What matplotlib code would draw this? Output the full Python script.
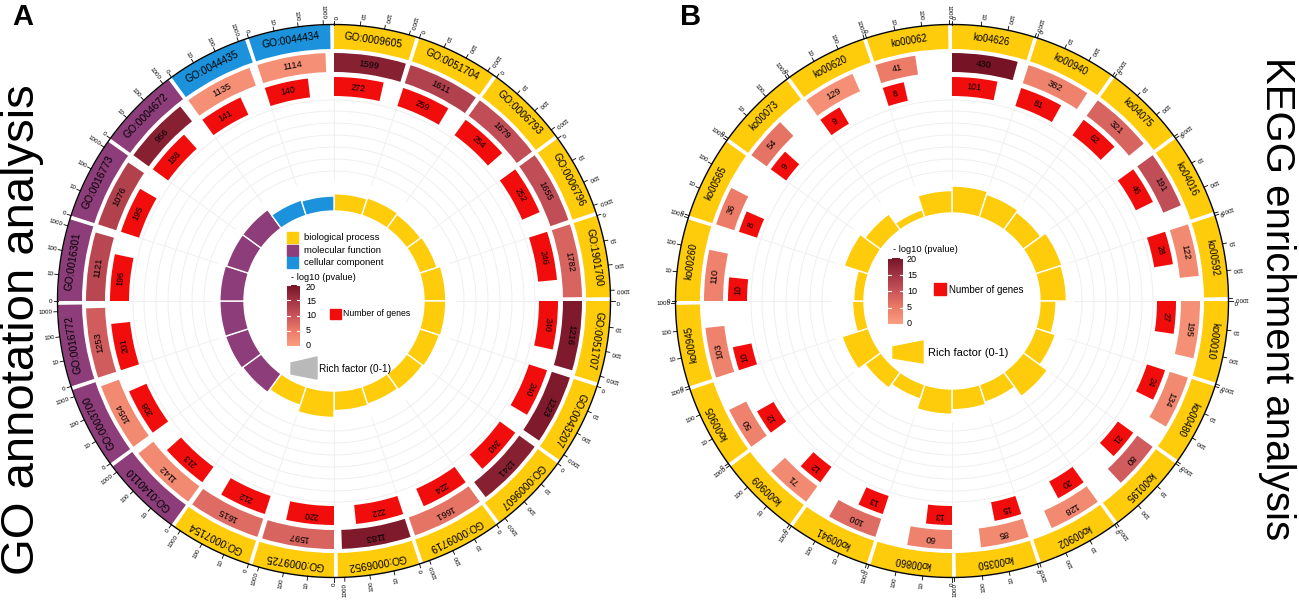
import numpy as np
import matplotlib
matplotlib.use("Agg")
import matplotlib.pyplot as plt
from matplotlib.colors import LinearSegmentedColormap, Normalize
from matplotlib.patches import Rectangle, Polygon

plt.rcParams['font.family'] = ['Liberation Sans', 'DejaVu Sans']

# GO annotation data, clockwise from 12 o'clock
go_terms = ['GO:0009605', 'GO:0051704', 'GO:0006793', 'GO:0006796', 'GO:1901700',
            'GO:0051707', 'GO:0043207', 'GO:0009607', 'GO:0009719', 'GO:0006952',
            'GO:0009725', 'GO:0007154', 'GO:0140110', 'GO:0003700', 'GO:0016772',
            'GO:0016301', 'GO:0016773', 'GO:0004672', 'GO:0044435', 'GO:0044434']
go_class = ['BP'] * 12 + ['MF'] * 6 + ['CC'] * 2
go_bg = [1599, 1611, 1679, 1655, 1782, 1216, 1223, 1241, 1661, 1183,
         1597, 1615, 1142, 1054, 1253, 1121, 1076, 956, 1135, 1114]
go_genes = [272, 259, 254, 252, 246, 240, 240, 240, 224, 222,
            220, 212, 213, 208, 201, 196, 195, 188, 141, 140]
go_logp = [18, 13, 11, 11, 8, 19, 19, 18, 6, 19,
           8, 7, 3, 3, 9, 12, 13, 18, 2, 2]
go_rich = [0.15, 0.16, 0.15, 0.16, 0.19, 0.19, 0.18, 0.17, 0.16, 0.17,
           0.23, 0.17, 0.20, 0.21, 0.21, 0.21, 0.20, 0.20, 0.14, 0.13]

# KEGG enrichment data, clockwise from 12 o'clock
ko_terms = ['ko04626', 'ko00940', 'ko04075', 'ko04016', 'ko00592', 'ko00010',
            'ko00480', 'ko00195', 'ko00902', 'ko00350', 'ko00860', 'ko00941',
            'ko00909', 'ko00905', 'ko00945', 'ko00260', 'ko00565', 'ko00073',
            'ko00620', 'ko00062']
ko_bg = [430, 382, 321, 191, 122, 195, 134, 80, 128, 85,
         60, 100, 71, 50, 103, 110, 36, 54, 129, 41]
ko_genes = [101, 81, 62, 46, 28, 27, 24, 21, 20, 15,
            13, 13, 12, 12, 10, 10, 8, 9, 9, 8]
ko_logp = [20, 4, 8, 11, 3, 2, 3, 9, 3, 3,
           4, 7, 3, 4, 4, 4, 5, 6, 2, 5]
ko_rich = [0.235, 0.21, 0.19, 0.24, 0.23, 0.14, 0.18, 0.26, 0.16, 0.18,
           0.22, 0.13, 0.17, 0.24, 0.10, 0.09, 0.22, 0.17, 0.07, 0.195]

axis_ticks = [0, 10, 100, 1000]
cbar_ticks = [0, 5, 10, 15, 20]

class_colors = {'BP': '#FECC0A', 'MF': '#8C3D7A', 'CC': '#1B92DB'}
gene_red = '#F20D0D'
cmap = LinearSegmentedColormap.from_list(
    'p', ['#FB9D80', '#EC7B67', '#C9545A', '#A23444', '#761426'])
norm = Normalize(0, 20)

W, H = 1299, 604
fig = plt.figure(figsize=(W / 100, H / 100), dpi=100)


def make_polar(cx, cy):
    ax = fig.add_axes([(cx - 300) / W, (H - cy - 300) / H, 600 / W, 600 / H],
                      projection='polar')
    ax.set_theta_zero_location('N')
    ax.set_theta_direction(-1)
    ax.set_ylim(0, 300)
    ax.set_axis_off()
    return ax


def draw_circle(ax, terms, colors, bg, genes, logp, rich, decades, base, label_fs):
    n = len(terms)
    seg = 2 * np.pi / n
    gap = np.radians(0.8)
    span = seg - gap
    starts = np.arange(n) * seg

    def pos(v):
        return np.log10(np.asarray(v, dtype=float) + 1) / decades * span

    full = np.linspace(0, 2 * np.pi, 500)
    # faint background tracks and spokes
    for r in [130, 142, 154, 166, 178, 190, 201]:
        ax.plot(full, np.full_like(full, r), color='#EFEFEF', lw=0.7, zorder=0)
    for s in starts:
        ax.plot([s, s], [122, 203], color='#F0F0F0', lw=0.7, zorder=0)

    # outer category band
    ax.bar(starts, 24, width=span, bottom=252, align='edge', color=colors,
           edgecolor='none')
    for s, t in zip(starts, terms):
        th = s + span / 2
        ax.text(th, 264, t, rotation=-np.degrees(th), rotation_mode='anchor',
                ha='center', va='center', fontsize=label_fs)

    # outer scale line with ticks
    ax.plot(full, np.full_like(full, 276.5), color='black', lw=1.0)
    for s in starts:
        for t in axis_ticks:
            th = s + pos(t)
            ax.plot([th, th], [276.5, 280.5], color='black', lw=0.6)
            ax.text(th, 282, str(t), rotation=(270 - np.degrees(th)) % 360,
                    rotation_mode='anchor', ha='right', va='center', fontsize=4.5)

    # background genes ring
    wbg = pos(bg)
    ax.bar(starts, 19, width=wbg, bottom=229, align='edge',
           color=cmap(norm(np.asarray(logp))), edgecolor='none')
    for s, w, v in zip(starts, wbg, bg):
        th = s + w / 2
        ax.text(th, 238.5, str(v), rotation=-np.degrees(th), rotation_mode='anchor',
                ha='center', va='center', fontsize=6.7)

    # number of genes ring
    wg = pos(genes)
    ax.bar(starts, 19, width=wg, bottom=205, align='edge', color=gene_red,
           edgecolor='none')
    for s, w, v in zip(starts, wg, genes):
        th = s + w / 2
        ax.text(th, 214.5, str(v), rotation=-np.degrees(th), rotation_mode='anchor',
                ha='center', va='center', fontsize=6.3)

    # rich factor ring
    ax.bar(starts, np.asarray(rich) * 115, width=seg, bottom=base, align='edge',
           color=colors, edgecolor='white', linewidth=1.0)


axA = make_polar(334, 301)
draw_circle(axA, go_terms, [class_colors[c] for c in go_class], go_bg, go_genes,
            go_logp, go_rich, 3.27, 90, 7.4)

axB = make_polar(952, 301)
draw_circle(axB, ko_terms, [class_colors['BP']] * len(ko_terms), ko_bg, ko_genes,
            ko_logp, ko_rich, 2.95, 88, 6.9)

# overlay for legends and titles, in pixel coordinates
ov = fig.add_axes([0, 0, 1, 1], zorder=10)
ov.patch.set_alpha(0)

grad = np.linspace(0, 20, 200).reshape(-1, 1)


def pvalue_legend(x0, x1, ytop, ybot, lab_x, lab_top, lab_bot, title_xy):
    ov.imshow(grad, extent=[x0, x1, ybot, ytop], origin='lower', cmap=cmap,
              norm=norm, aspect='auto', zorder=11)
    for v in cbar_ticks:
        y = ybot + (ytop - ybot) * v / 20
        ov.plot([x0, x0 + 3], [y, y], color='white', lw=0.8, zorder=12)
        ov.plot([x1 - 3, x1], [y, y], color='white', lw=0.8, zorder=12)
        ly = lab_bot + (lab_top - lab_bot) * v / 20
        ov.text(lab_x, ly, str(v), ha='left', va='center', fontsize=6.5)
    ov.text(title_xy[0], title_xy[1], '- log10 (pvalue)', ha='left', va='center',
            fontsize=6.7)


# GO legend
for y, c, lab in [(232, 'BP', 'biological process'), (245, 'MF', 'molecular function'),
                  (257, 'CC', 'cellular component')]:
    ov.add_patch(Rectangle((287, y), 11, 11, color=class_colors[c]))
    ov.text(304, y + 5.5, lab, ha='left', va='center', fontsize=6.8)
pvalue_legend(287, 300, 285, 346, 306, 287, 345, (291, 278))
ov.add_patch(Rectangle((330, 309), 11, 10, color=gene_red))
ov.text(343.5, 314, 'Number of genes', ha='left', va='center', fontsize=6.3)
ov.add_patch(Polygon([(291, 363), (317, 357), (317, 379), (291, 374)],
                     color='#B9B9B9'))
ov.text(319, 369, 'Rich factor (0-1)', ha='left', va='center', fontsize=7.2)

# KEGG legend
pvalue_legend(888, 903, 258, 324, 907, 260, 323, (893, 250))
ov.add_patch(Rectangle((934, 283), 12, 12, color=gene_red))
ov.text(949, 290, 'Number of genes', ha='left', va='center', fontsize=7)
ov.add_patch(Polygon([(893, 347), (923, 341), (923, 363), (893, 358)],
                     color=class_colors['BP']))
ov.text(928, 353, 'Rich factor (0-1)', ha='left', va='center', fontsize=8)

# panel letters and side titles
ov.text(12, 17, 'A', ha='left', va='center', fontsize=21, fontweight='bold')
ov.text(680, 17, 'B', ha='left', va='center', fontsize=21, fontweight='bold')
ov.text(22, 330, 'GO annotation analysis', rotation=90, ha='center', va='center',
        fontsize=34)
ov.text(1277, 299, 'KEGG enrichment analysis', rotation=-90, ha='center',
        va='center', fontsize=29)

ov.set_xlim(0, W)
ov.set_ylim(H, 0)
ov.set_axis_off()

fig.savefig('out.png', dpi=100)
